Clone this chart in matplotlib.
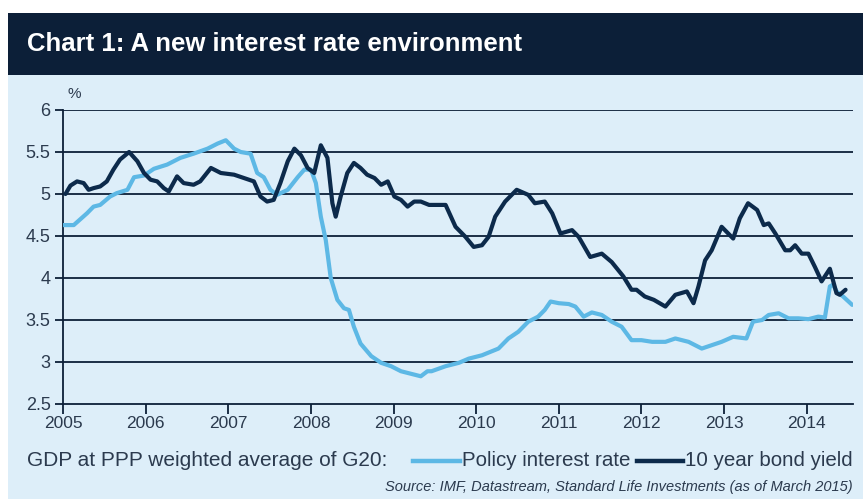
import matplotlib.pyplot as plt
from matplotlib.patches import Rectangle

# fractional years / % values
policy_x = [2005.00, 2005.13, 2005.29, 2005.37, 2005.45, 2005.57, 2005.65, 2005.78, 2005.86, 2005.98,
            2006.10, 2006.26, 2006.42, 2006.58, 2006.75, 2006.87, 2006.97, 2007.07, 2007.15, 2007.27,
            2007.35, 2007.43, 2007.51, 2007.59, 2007.72, 2007.84, 2007.92, 2008.00, 2008.06, 2008.12,
            2008.18, 2008.24, 2008.32, 2008.40, 2008.46, 2008.52, 2008.60, 2008.73, 2008.85, 2008.97,
            2009.09, 2009.25, 2009.33, 2009.41, 2009.46, 2009.63, 2009.79, 2009.91, 2010.07, 2010.27,
            2010.39, 2010.51, 2010.63, 2010.75, 2010.83, 2010.90, 2011.00, 2011.12, 2011.20, 2011.30,
            2011.40, 2011.52, 2011.64, 2011.76, 2011.88, 2012.00, 2012.13, 2012.29, 2012.41, 2012.57,
            2012.73, 2012.85, 2012.97, 2013.11, 2013.27, 2013.35, 2013.46, 2013.54, 2013.66, 2013.78,
            2013.90, 2014.02, 2014.14, 2014.22, 2014.28, 2014.32, 2014.36, 2014.44, 2014.55]
policy_rate = [4.63, 4.63, 4.77, 4.85, 4.87, 4.97, 5.01, 5.05, 5.20, 5.22,
               5.30, 5.35, 5.43, 5.48, 5.54, 5.60, 5.64, 5.54, 5.50, 5.48,
               5.25, 5.20, 5.05, 4.99, 5.05, 5.20, 5.29, 5.29, 5.13, 4.73,
               4.45, 4.00, 3.74, 3.64, 3.62, 3.42, 3.22, 3.07, 2.99, 2.95,
               2.89, 2.85, 2.83, 2.89, 2.89, 2.95, 2.99, 3.04, 3.08, 3.16,
               3.28, 3.36, 3.48, 3.54, 3.62, 3.72, 3.70, 3.69, 3.66, 3.54,
               3.59, 3.56, 3.48, 3.42, 3.26, 3.26, 3.24, 3.24, 3.28, 3.24,
               3.16, 3.20, 3.24, 3.30, 3.28, 3.48, 3.50, 3.56, 3.58, 3.52,
               3.52, 3.51, 3.54, 3.53, 3.90, 3.92, 3.84, 3.78, 3.68]

bond_x = [2005.03, 2005.09, 2005.17, 2005.25, 2005.31, 2005.37, 2005.45, 2005.53, 2005.61, 2005.69,
          2005.80, 2005.90, 2005.98, 2006.06, 2006.14, 2006.22, 2006.28, 2006.38, 2006.46, 2006.58,
          2006.66, 2006.79, 2006.91, 2007.07, 2007.19, 2007.31, 2007.39, 2007.47, 2007.55, 2007.63,
          2007.72, 2007.80, 2007.88, 2007.96, 2008.04, 2008.12, 2008.20, 2008.26, 2008.30, 2008.36,
          2008.44, 2008.52, 2008.60, 2008.68, 2008.77, 2008.85, 2008.93, 2009.01, 2009.09, 2009.17,
          2009.25, 2009.33, 2009.43, 2009.63, 2009.75, 2009.87, 2009.97, 2010.07, 2010.15, 2010.23,
          2010.35, 2010.49, 2010.63, 2010.71, 2010.83, 2010.92, 2011.02, 2011.16, 2011.24, 2011.38,
          2011.52, 2011.64, 2011.78, 2011.88, 2011.94, 2012.04, 2012.15, 2012.29, 2012.41, 2012.55,
          2012.63, 2012.69, 2012.77, 2012.85, 2012.97, 2013.11, 2013.19, 2013.29, 2013.40, 2013.48,
          2013.54, 2013.62, 2013.74, 2013.80, 2013.86, 2013.94, 2014.02, 2014.10, 2014.18, 2014.28,
          2014.36, 2014.40, 2014.47]
bond_yield = [5.00, 5.10, 5.15, 5.13, 5.05, 5.07, 5.09, 5.15, 5.29, 5.41,
              5.50, 5.39, 5.25, 5.17, 5.15, 5.07, 5.03, 5.21, 5.13, 5.11,
              5.15, 5.31, 5.25, 5.23, 5.19, 5.15, 4.97, 4.91, 4.93, 5.13,
              5.39, 5.54, 5.46, 5.31, 5.25, 5.58, 5.43, 4.89, 4.73, 4.97,
              5.25, 5.37, 5.31, 5.23, 5.19, 5.11, 5.15, 4.97, 4.93, 4.85,
              4.91, 4.91, 4.87, 4.87, 4.61, 4.49, 4.37, 4.39, 4.49, 4.73,
              4.91, 5.05, 4.99, 4.89, 4.91, 4.77, 4.53, 4.57, 4.49, 4.25,
              4.29, 4.19, 4.02, 3.86, 3.86, 3.78, 3.74, 3.66, 3.80, 3.84,
              3.70, 3.90, 4.21, 4.33, 4.61, 4.47, 4.71, 4.89, 4.81, 4.63,
              4.65, 4.53, 4.33, 4.33, 4.39, 4.29, 4.29, 4.13, 3.96, 4.11,
              3.82, 3.80, 3.86]

years = list(range(2005, 2015))
yticks = [2.5, 3, 3.5, 4, 4.5, 5, 5.5, 6]
ytick_labels = ['2.5', '3', '3.5', '4', '4.5', '5', '5.5', '6']

navy = '#0c1f38'
light = '#5db8e5'
dark = '#0c2a4b'
bg = '#ddeef9'
txt = '#2b3a4e'

plt.rcParams['font.family'] = ['Liberation Sans', 'DejaVu Sans']

W, H = 863, 499
fig = plt.figure(figsize=(W / 100, H / 100), dpi=100)
fig.patch.set_facecolor('white')

# background panel and title bar
fig.patches.append(Rectangle((8 / W, 0), 1 - 8 / W, 1 - 75 / H, transform=fig.transFigure,
                             facecolor=bg, edgecolor='none', zorder=-10))
fig.patches.append(Rectangle((8 / W, 1 - 75 / H), 1 - 8 / W, 62 / H, transform=fig.transFigure,
                             facecolor=navy, edgecolor='none', zorder=-10))
fig.text(27 / W, 1 - 44 / H, 'Chart 1: A new interest rate environment', color='white',
         fontsize=18.5, fontweight='bold', va='center', ha='left')

ax = fig.add_axes([63 / W, 1 - 404 / H, 790 / W, 294 / H])
ax.set_facecolor('none')
ax.set_zorder(2)

ax.plot(policy_x, policy_rate, color=light, lw=3.0, solid_capstyle='round', solid_joinstyle='round', zorder=3)
ax.plot(bond_x, bond_yield, color=dark, lw=3.0, solid_capstyle='round', solid_joinstyle='round', zorder=4)

ax.set_xlim(2005, 2014.56)
ax.set_ylim(2.5, 6)
ax.set_xticks(years)
ax.set_xticklabels([str(y) for y in years], fontsize=12.5, color=txt)
ax.set_yticks(yticks)
ax.set_yticklabels(ytick_labels, fontsize=13, color=txt)
for y in yticks[1:]:
    ax.axhline(y, color=navy, lw=1.3, zorder=1)

for s in ['top', 'right']:
    ax.spines[s].set_visible(False)
for s in ['left', 'bottom']:
    ax.spines[s].set_color(navy)
    ax.spines[s].set_linewidth(1.3)
ax.tick_params(axis='x', direction='out', length=7, width=1.3, color=navy, pad=2)
ax.tick_params(axis='y', direction='out', length=6, width=1.3, color=navy, pad=3)

ax.text(4 / 790, 1.055, '%', transform=ax.transAxes, fontsize=11, color=txt, ha='left', va='center')

# legend row
ly = 1 - 461 / H
fig.text(27 / W, ly, 'GDP at PPP weighted average of G20:', fontsize=15, color=txt,
         va='center', ha='left')
fig.lines.append(plt.Line2D([413 / W, 460 / W], [ly, ly], transform=fig.transFigure, color=light, lw=3.2))
fig.text(462 / W, ly, 'Policy interest rate', fontsize=14.8, color=txt, va='center', ha='left')
fig.lines.append(plt.Line2D([637 / W, 683 / W], [ly, ly], transform=fig.transFigure, color=dark, lw=3.2))
fig.text(685 / W, ly, '10 year bond yield', fontsize=14.8, color=txt, va='center', ha='left')

fig.text(853 / W, 1 - 487 / H, 'Source: IMF, Datastream, Standard Life Investments (as of March 2015)',
         fontsize=10.5, style='italic', color=txt, va='center', ha='right')

fig.savefig('out.png', dpi=100)
